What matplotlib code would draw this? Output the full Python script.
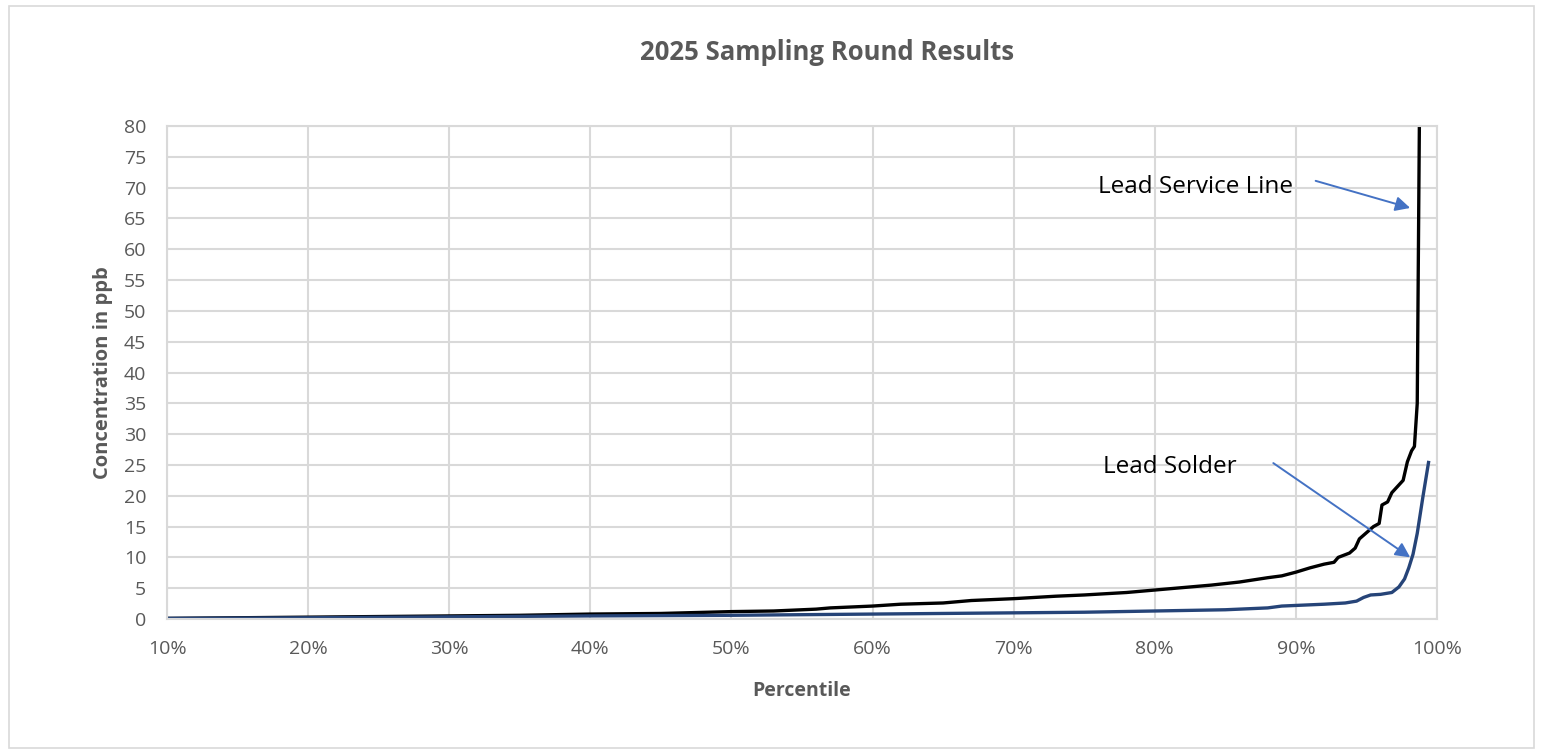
import matplotlib.pyplot as plt
from matplotlib.patches import Rectangle

# percentile (x) and lead concentration in ppb (y)
lsl_pct = [10, 15, 20, 25, 30, 35, 40, 45, 50, 53, 56, 57, 60, 62, 65, 67,
           70, 73, 75, 78, 80, 82, 84, 86, 88, 89, 90, 91, 92, 92.7, 93,
           93.8, 94.2, 94.5, 95, 95.5, 95.9, 96.1, 96.5, 96.8, 97.2, 97.6,
           97.9, 98.2, 98.4, 98.6, 98.75, 98.9]
lsl_ppb = [0.1, 0.2, 0.3, 0.4, 0.5, 0.6, 0.8, 0.9, 1.2, 1.3, 1.6, 1.8, 2.1,
           2.4, 2.6, 3.0, 3.3, 3.7, 3.9, 4.3, 4.7, 5.1, 5.5, 6.0, 6.7, 7.0,
           7.6, 8.3, 8.9, 9.2, 10.0, 10.7, 11.5, 13.0, 14.0, 15.0, 15.5,
           18.5, 19.0, 20.5, 21.5, 22.5, 25.5, 27.3, 28.0, 35.0, 80.0, 120.0]

solder_pct = [10, 20, 30, 40, 50, 60, 70, 75, 80, 85, 88, 89, 92, 93.5,
              94.3, 94.8, 95.3, 96, 96.8, 97.3, 97.7, 98.0, 98.3, 98.6,
              99.0, 99.4]
solder_ppb = [0.1, 0.2, 0.35, 0.5, 0.6, 0.8, 1.0, 1.1, 1.3, 1.5, 1.8, 2.1,
              2.4, 2.6, 2.9, 3.5, 3.9, 4.0, 4.3, 5.2, 6.5, 8.3, 10.5, 13.9,
              19.8, 25.4]

x_ticks = [10, 20, 30, 40, 50, 60, 70, 80, 90, 100]
x_tick_labels = ['10%', '20%', '30%', '40%', '50%', '60%', '70%', '80%', '90%', '100%']
y_ticks = list(range(0, 85, 5))

plt.rcParams['font.family'] = ['Open Sans', 'DejaVu Sans']
grey = '#595959'
grid_c = '#d9d9d9'

fig = plt.figure(figsize=(15.43, 7.53), dpi=100)
fig.patches.append(Rectangle((9 / 1543, 5 / 753), 1525 / 1543, 742 / 753,
                             transform=fig.transFigure, fill=False,
                             edgecolor=grid_c, lw=1.2))
ax = fig.add_axes([167 / 1543, 1 - 619 / 753, 1270 / 1543, 493 / 753])

ax.plot(lsl_pct, lsl_ppb, color='black', lw=2.4, solid_joinstyle='round')
ax.plot(solder_pct, solder_ppb, color='#264478', lw=2.4, solid_joinstyle='round')

ax.set_xlim(10, 100)
ax.set_ylim(0, 80)
ax.set_xticks(x_ticks)
ax.set_xticklabels(x_tick_labels)
ax.set_yticks(y_ticks)
ax.grid(True, color=grid_c, lw=1.5)
ax.set_axisbelow(True)
ax.tick_params(length=0, labelsize=14, labelcolor=grey)
ax.tick_params(axis='x', pad=15)
ax.tick_params(axis='y', pad=15)
for s in ax.spines.values():
    s.set_color(grid_c)
    s.set_linewidth(1.5)

ax.set_xlabel('Percentile', fontsize=14, fontweight='bold', color=grey, labelpad=17)
ax.set_ylabel('Concentration in ppb', fontsize=14.5, fontweight='bold', color=grey, labelpad=8)
fig.suptitle('2025 Sampling Round Results', x=827 / 1543,
             y=1 - 39 / 753, fontsize=18.5, fontweight='bold', color=grey)

# callouts
arrow = dict(arrowstyle='-|>', color='#4472C4', lw=1.4, mutation_scale=22,
             shrinkA=0, shrinkB=0)
ax.text(89.8, 70.1, 'Lead Service Line', fontsize=17.5, ha='right', va='center')
ax.annotate('', xy=(98.1, 66.7), xytext=(91.4, 71.1), arrowprops=arrow)
ax.text(85.8, 24.6, 'Lead Solder', fontsize=17.5, ha='right', va='center')
ax.annotate('', xy=(98.1, 10.0), xytext=(88.4, 25.3), arrowprops=arrow)

fig.savefig('out.png', dpi=100)
